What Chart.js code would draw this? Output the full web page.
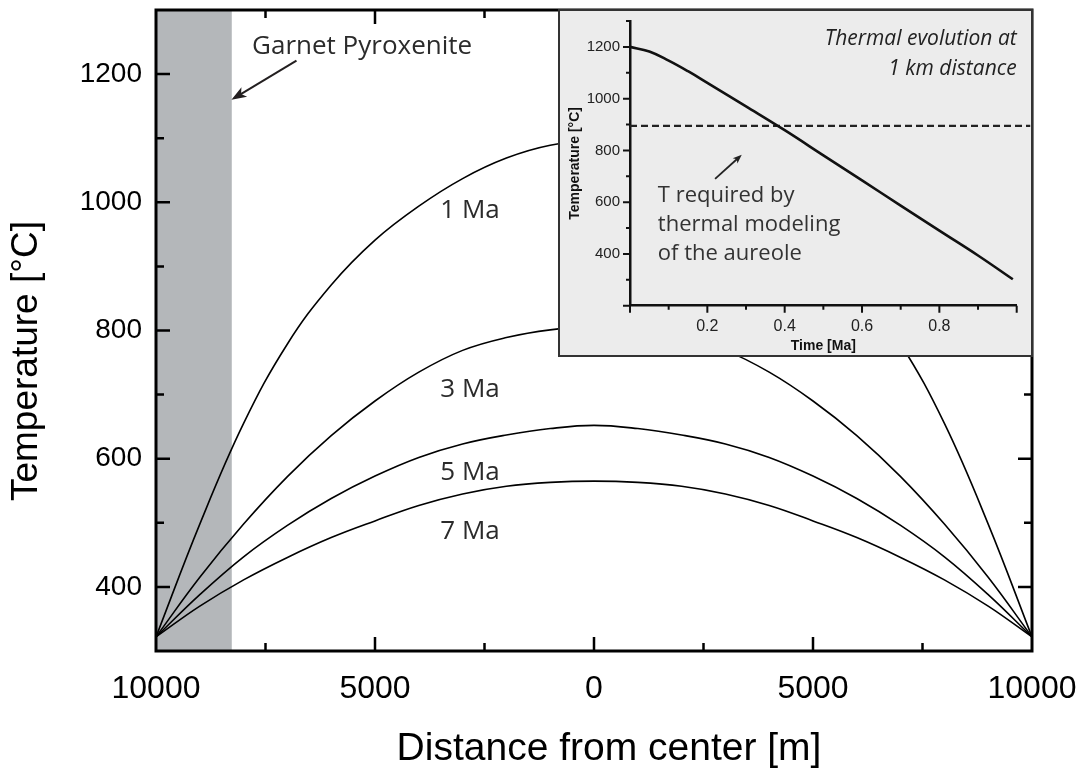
<!DOCTYPE html>
<html>
<head>
<meta charset="utf-8">
<script src="https://cdn.jsdelivr.net/npm/chart.js@4.4.1/dist/chart.umd.min.js"></script>
<style>
  html, body { margin: 0; padding: 0; background: #fff; }
  #wrap { position: relative; width: 1083px; height: 772px; }
  #main { position: absolute; left: 0; top: 0; }
  #insetBox { position: absolute; left: 558px; top: 9px; width: 471px; height: 344px;
              border: 2px solid #333; background: #ececec; }
  #inset { display: block; }
</style>
</head>
<body>
<div id="wrap">
  <canvas id="main" width="1083" height="772"></canvas>
  <div id="insetBox"><canvas id="inset" width="471" height="344"></canvas></div>
</div>
<script>
// Temperature profiles across the intrusion, distance from center [m]
var distance = [-10000, -9000, -8000, -7000, -6000, -5000, -4000, -3000, -2000, -1000, 0,
                 1000, 2000, 3000, 4000, 5000, 6000, 7000, 8000, 9000, 10000];
var temp1Ma = [322, 498, 655, 779, 871, 941, 994, 1037, 1069, 1089, 1096,
               1089, 1069, 1037, 994, 941, 871, 779, 655, 498, 322];
var temp3Ma = [322, 415, 498, 572, 636, 690, 735, 769, 789, 801, 806,
               801, 789, 769, 735, 690, 636, 572, 498, 415, 322];
var temp5Ma = [322, 388, 447, 496, 538, 573, 602, 623, 637, 647, 652,
               647, 637, 623, 602, 573, 538, 496, 447, 388, 322];
var temp7Ma = [322, 370, 411, 446, 477, 503, 527, 545, 557, 563, 565,
               563, 557, 545, 527, 503, 477, 446, 411, 370, 322];
var curveLabels = ['1 Ma', '3 Ma', '5 Ma', '7 Ma'];
var xTickLabels = [-10000, -5000, 0, 5000, 10000];
var yTickLabels = [400, 600, 800, 1000, 1200];
var garnetZone = [-10000, -8270];

// Inset: thermal evolution at 1 km distance
var insetTime = [0, 0.05, 0.1, 0.15, 0.2, 0.3, 0.4, 0.5, 0.6, 0.7, 0.8, 0.9, 0.99];
var insetTemp = [1200, 1182, 1147, 1106, 1061, 970, 878, 781, 684, 587, 490, 394, 302];
var requiredTemp = 895;
var requiredSpan = [0, 1.035];
var insetXTickLabels = [0.2, 0.4, 0.6, 0.8];
var insetYTickLabels = [400, 600, 800, 1000, 1200];

var FONT_AXIS = 'Arial, "Liberation Sans", Helvetica, sans-serif';
var FONT_NOTE = '"Open Sans", "Noto Sans", sans-serif';

function points(xs, ys) {
  return xs.map(function (x, i) { return {x: x, y: ys[i]}; });
}

function drawArrow(ctx, x1, y1, x2, y2, head, width, lw, color) {
  var ang = Math.atan2(y2 - y1, x2 - x1);
  ctx.save();
  ctx.strokeStyle = color;
  ctx.fillStyle = color;
  ctx.lineWidth = lw;
  ctx.beginPath();
  ctx.moveTo(x1, y1);
  ctx.lineTo(x2 - Math.cos(ang) * head * 0.7, y2 - Math.sin(ang) * head * 0.7);
  ctx.stroke();
  ctx.translate(x2, y2);
  ctx.rotate(ang);
  ctx.beginPath();
  ctx.moveTo(0, 0);
  ctx.lineTo(-head, -width / 2);
  ctx.lineTo(-head * 0.75, 0);
  ctx.lineTo(-head, width / 2);
  ctx.closePath();
  ctx.fill();
  ctx.restore();
}

// band, inner ticks, frame and labels of the main plot
var mainDecor = {
  id: 'mainDecor',
  beforeDatasetsDraw: function (chart) {
    var a = chart.chartArea, xs = chart.scales.x, ctx = chart.ctx;
    var x0 = xs.getPixelForValue(garnetZone[0]);
    var x1 = xs.getPixelForValue(garnetZone[1]);
    ctx.save();
    ctx.fillStyle = '#b4b7ba';
    ctx.fillRect(x0, a.top, x1 - x0, a.bottom - a.top);
    ctx.restore();
  },
  afterDatasetsDraw: function (chart) {
    var a = chart.chartArea, xs = chart.scales.x, ys = chart.scales.y, ctx = chart.ctx;
    ctx.save();
    ctx.strokeStyle = '#000';
    ctx.lineWidth = 2.5;
    ctx.beginPath();
    xs.ticks.forEach(function (t) {
      if (t.value <= xs.min || t.value >= xs.max) return;
      var len = xTickLabels.indexOf(t.value) >= 0 ? 14 : 8;
      var p = xs.getPixelForValue(t.value);
      ctx.moveTo(p, a.bottom); ctx.lineTo(p, a.bottom - len);
      ctx.moveTo(p, a.top); ctx.lineTo(p, a.top + len);
    });
    ys.ticks.forEach(function (t) {
      if (t.value <= ys.min || t.value >= ys.max) return;
      var len = t.value % 200 === 0 ? 14 : 8;
      var p = ys.getPixelForValue(t.value);
      ctx.moveTo(a.left, p); ctx.lineTo(a.left + len, p);
      ctx.moveTo(a.right, p); ctx.lineTo(a.right - len, p);
    });
    ctx.stroke();
    ctx.lineWidth = 3;
    ctx.strokeRect(a.left, a.top, a.right - a.left, a.bottom - a.top);
    ctx.restore();
  },
  afterDraw: function (chart) {
    var xs = chart.scales.x, ys = chart.scales.y, ctx = chart.ctx;
    ctx.save();
    ctx.fillStyle = '#2b2b2b';
    ctx.font = '26px ' + FONT_NOTE;
    ctx.textAlign = 'left';
    ctx.textBaseline = 'alphabetic';
    ctx.fillText('Garnet Pyroxenite', xs.getPixelForValue(-7807), ys.getPixelForValue(1231));
    drawArrow(ctx, xs.getPixelForValue(-6793), ys.getPixelForValue(1221),
              xs.getPixelForValue(-8278), ys.getPixelForValue(1160), 15, 11, 2, '#231f20');
    var labelTemp = [976, 696, 566, 475];
    curveLabels.forEach(function (lbl, i) {
      ctx.fillText(lbl, xs.getPixelForValue(-3510), ys.getPixelForValue(labelTemp[i]));
    });
    // axis titles
    ctx.fillStyle = '#000';
    ctx.textAlign = 'center';
    ctx.font = '39px ' + FONT_AXIS;
    ctx.fillText('Distance from center [m]', 609, 760);
    ctx.translate(27, 361);
    ctx.rotate(-Math.PI / 2);
    ctx.font = '37px ' + FONT_AXIS;
    ctx.textBaseline = 'middle';
    ctx.fillText('Temperature [°C]', 0, 0);
    ctx.restore();
  }
};

new Chart(document.getElementById('main'), {
  type: 'line',
  data: {
    datasets: [temp1Ma, temp3Ma, temp5Ma, temp7Ma].map(function (temps, i) {
      return {
        label: curveLabels[i],
        data: points(distance, temps),
        borderColor: '#000',
        borderWidth: 1.6,
        pointRadius: 0,
        tension: 0.4
      };
    })
  },
  options: {
    responsive: false,
    animation: false,
    devicePixelRatio: 1,
    layout: {padding: {top: 10, right: 51, left: 0, bottom: 0}},
    plugins: {legend: {display: false}, tooltip: {enabled: false}},
    scales: {
      x: {
        type: 'linear', min: -10000, max: 10000,
        ticks: {
          stepSize: 2500, autoSkip: false, maxRotation: 0, padding: 19,
          color: '#000', font: {family: FONT_AXIS, size: 32},
          callback: function (v) { return xTickLabels.indexOf(v) >= 0 ? String(Math.abs(v)) : ''; }
        },
        grid: {display: false, drawTicks: false},
        border: {display: false},
        afterFit: function (s) { s.height = 121; s.paddingLeft = 0; s.paddingRight = 0; }
      },
      y: {
        type: 'linear', min: 300, max: 1300,
        ticks: {
          stepSize: 100, autoSkip: false, padding: 14,
          color: '#000', font: {family: FONT_AXIS, size: 28},
          callback: function (v) { return yTickLabels.indexOf(v) >= 0 ? String(v) : ''; }
        },
        grid: {display: false, drawTicks: false},
        border: {display: false},
        afterFit: function (s) { s.width = 156; s.paddingTop = 0; s.paddingBottom = 0; }
      }
    }
  },
  plugins: [mainDecor]
});

// outward ticks and notes of the inset
var insetDecor = {
  id: 'insetDecor',
  afterDraw: function (chart) {
    var a = chart.chartArea, xs = chart.scales.x, ys = chart.scales.y, ctx = chart.ctx;
    ctx.save();
    ctx.strokeStyle = '#111';
    ctx.lineWidth = 2;
    ctx.beginPath();
    ys.ticks.forEach(function (t) {
      var len = t.value % 200 === 0 ? 7 : 4;
      var p = ys.getPixelForValue(t.value);
      ctx.moveTo(a.left, p); ctx.lineTo(a.left - len, p);
    });
    xs.ticks.forEach(function (t) {
      var len = Math.round(t.value * 10) % 2 === 0 ? 7 : 4;
      var p = xs.getPixelForValue(t.value);
      ctx.moveTo(p, a.bottom); ctx.lineTo(p, a.bottom + len);
    });
    ctx.stroke();

    ctx.fillStyle = '#222';
    ctx.font = 'italic 21px ' + FONT_NOTE;
    ctx.textAlign = 'right';
    ctx.textBaseline = 'alphabetic';
    ctx.fillText('Thermal evolution at', xs.getPixelForValue(1), ys.getPixelForValue(1206));
    ctx.fillText('1 km distance', xs.getPixelForValue(1), ys.getPixelForValue(1093));

    ctx.fillStyle = '#333';
    ctx.font = '22px ' + FONT_NOTE;
    ctx.textAlign = 'left';
    var tx = xs.getPixelForValue(0.072), ty = ys.getPixelForValue(602);
    ['T required by', 'thermal modeling', 'of the aureole'].forEach(function (s, i) {
      ctx.fillText(s, tx, ty + i * 29);
    });
    drawArrow(ctx, xs.getPixelForValue(0.22), ys.getPixelForValue(690),
              xs.getPixelForValue(0.289), ys.getPixelForValue(783), 9, 7, 1.8, '#222');
    ctx.restore();
  }
};

new Chart(document.getElementById('inset'), {
  type: 'line',
  data: {
    datasets: [{
      label: 'T at 1 km',
      data: points(insetTime, insetTemp),
      borderColor: '#111',
      borderWidth: 2.6,
      pointRadius: 0,
      tension: 0.4
    }, {
      label: 'T required',
      data: requiredSpan.map(function (t) { return {x: t, y: requiredTemp}; }),
      borderColor: '#222',
      borderWidth: 2.2,
      borderDash: [7, 4],
      pointRadius: 0,
      clip: false
    }]
  },
  options: {
    responsive: false,
    animation: false,
    devicePixelRatio: 1,
    layout: {padding: {top: 10, right: 14.3, left: 0, bottom: 0}},
    plugins: {legend: {display: false}, tooltip: {enabled: false}},
    scales: {
      x: {
        type: 'linear', min: 0, max: 1,
        ticks: {
          stepSize: 0.1, autoSkip: false, maxRotation: 0, padding: 11,
          color: '#222', font: {family: FONT_AXIS, size: 16},
          callback: function (v) {
            var hit = insetXTickLabels.some(function (l) { return Math.abs(l - v) < 1e-6; });
            return hit ? v.toFixed(1) : '';
          }
        },
        grid: {display: false, drawTicks: false},
        border: {display: true, width: 2.5, color: '#111'},
        title: {display: true, text: 'Time [Ma]', color: '#111',
                font: {family: FONT_AXIS, size: 14, weight: 'bold'}, padding: {top: 0, bottom: 0}},
        afterFit: function (s) { s.height = 49.3; s.paddingLeft = 0; s.paddingRight = 0; }
      },
      y: {
        type: 'linear', min: 200, max: 1300,
        ticks: {
          stepSize: 100, autoSkip: false, padding: 10,
          color: '#222', font: {family: FONT_AXIS, size: 15},
          callback: function (v) { return insetYTickLabels.indexOf(v) >= 0 ? String(v) : ''; }
        },
        grid: {display: false, drawTicks: false},
        border: {display: true, width: 2.5, color: '#111'},
        title: {display: true, text: 'Temperature [°C]', color: '#111',
                font: {family: FONT_AXIS, size: 14, weight: 'bold'}, padding: {top: 7, bottom: 0}},
        afterFit: function (s) { s.width = 70; s.paddingTop = 0; s.paddingBottom = 0; }
      }
    }
  },
  plugins: [insetDecor]
});
</script>
</body>
</html>
